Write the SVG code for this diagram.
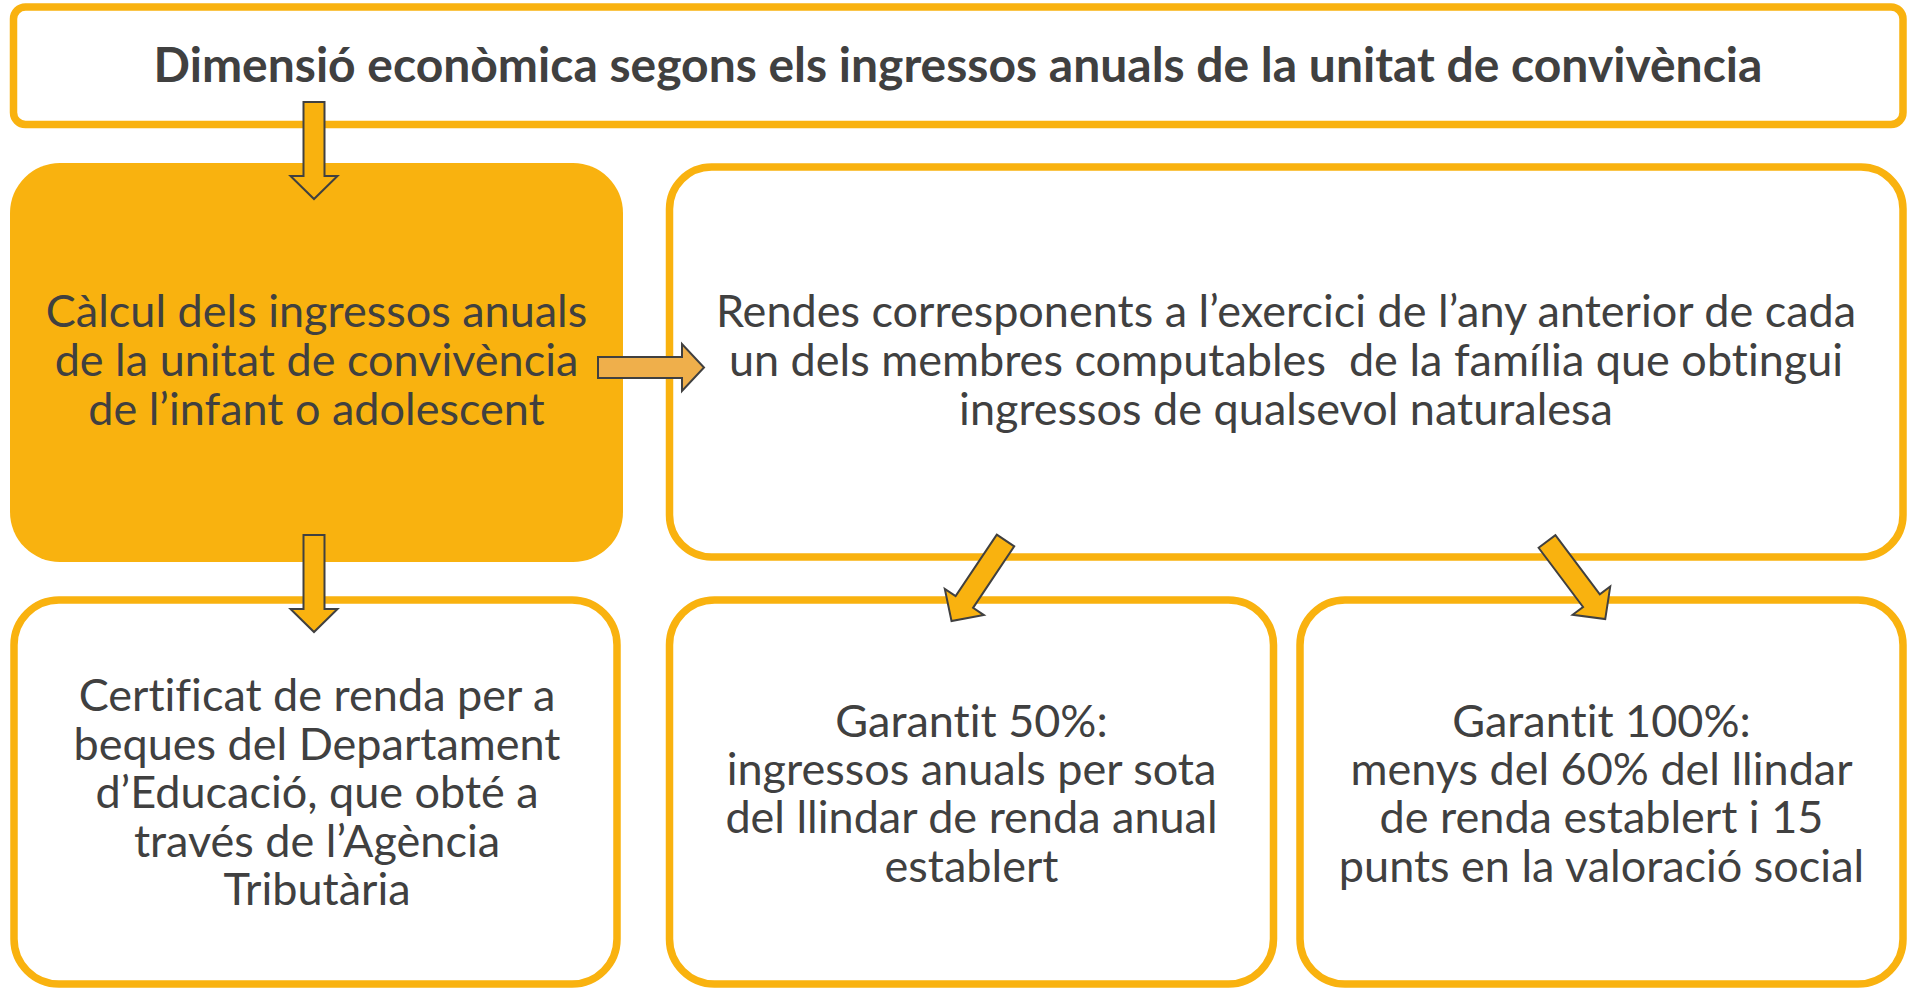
<svg xmlns="http://www.w3.org/2000/svg" width="1912" height="990" viewBox="0 0 1912 990">
<style>
.box{fill:#ffffff;stroke:#F9B20F;stroke-width:7.5}
.fbox{fill:#F9B20F;stroke:none}
.t{font-family:Lato,"Liberation Sans",sans-serif;font-size:45px;fill:#404040;text-anchor:middle;font-variant-ligatures:none}
.title{font-family:Lato,"Liberation Sans",sans-serif;font-size:48px;font-weight:bold;fill:#404040;text-anchor:middle;font-variant-ligatures:none}
.arr{fill:#F9B20F;stroke:#404040;stroke-width:2;stroke-linejoin:miter}
.arr2{fill:#EFAF4B;stroke:#404040;stroke-width:2;stroke-linejoin:miter}
</style>
<defs>
<polygon id="down" points="-10.5,0 10.5,0 10.5,74 23.5,74 0,97 -23.5,74 -10.5,74"/>
</defs>
<rect width="1912" height="990" fill="#ffffff"/>
<g id="n-title">
<rect class="box" x="13.5" y="7" width="1889.5" height="117.5" rx="12"/>
<text class="title" x="958" y="82">Dimensió econòmica segons els ingressos anuals de la unitat de convivència</text>
</g>
<g id="n-calcul">
<rect class="fbox" x="10" y="163" width="613" height="399" rx="50"/>
<text class="t" x="316.5" y="327">Càlcul dels ingressos anuals</text>
<text class="t" x="316.5" y="376">de la unitat de convivència</text>
<text class="t" x="316.5" y="425">de l’infant o adolescent</text>
</g>
<g id="n-rendes">
<rect class="box" x="669.5" y="167" width="1233.5" height="390" rx="42"/>
<text class="t" x="1286" y="327">Rendes corresponents a l’exercici de l’any anterior de cada</text>
<text class="t" x="1286" y="376" style="white-space:pre">un dels membres computables  de la família que obtingui</text>
<text class="t" x="1286" y="425">ingressos de qualsevol naturalesa</text>
</g>
<g id="n-certificat">
<rect class="box" x="14" y="600" width="603" height="384" rx="45"/>
<text class="t" x="317" y="711">Certificat de renda per a</text>
<text class="t" x="317" y="759.5">beques del Departament</text>
<text class="t" x="317" y="808">d’Educació, que obté a</text>
<text class="t" x="317" y="856.5">través de l’Agència</text>
<text class="t" x="317" y="905">Tributària</text>
</g>
<g id="n-garantit50">
<rect class="box" x="669.5" y="600" width="604" height="384" rx="45"/>
<text class="t" x="971.5" y="737">Garantit 50%:</text>
<text class="t" x="971.5" y="785">ingressos anuals per sota</text>
<text class="t" x="971.5" y="833">del llindar de renda anual</text>
<text class="t" x="971.5" y="882">establert</text>
</g>
<g id="n-garantit100">
<rect class="box" x="1300" y="600" width="603" height="384" rx="45"/>
<text class="t" x="1601.5" y="737">Garantit 100%:</text>
<text class="t" x="1601.5" y="785">menys del 60% del llindar</text>
<text class="t" x="1601.5" y="833">de renda establert i 15</text>
<text class="t" x="1601.5" y="882">punts en la valoració social</text>
</g>
<g id="connectors">
<use href="#down" class="arr" transform="translate(314,102)"/>
<use href="#down" class="arr" transform="translate(314,535)"/>
<polygon class="arr2" points="598,357 682,357 682,344 704,367.5 682,391 682,378 598,378"/>
<use href="#down" class="arr" transform="translate(1005.5,540.5) rotate(33.8)"/>
<use href="#down" class="arr" transform="translate(1547,541.5) rotate(-36.9)"/>
</g>
</svg>
